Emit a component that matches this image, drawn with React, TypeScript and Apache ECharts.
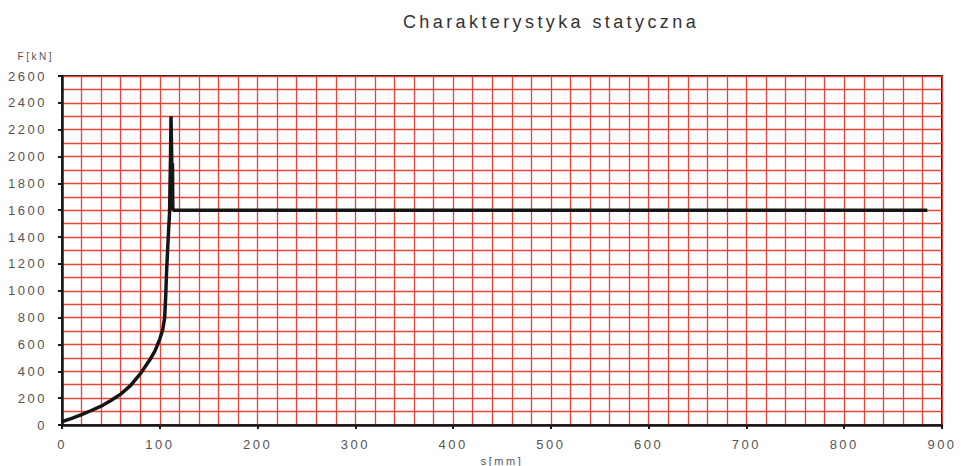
import React, { useEffect, useRef } from "react";
import * as echarts from "echarts";

const titleText = "Charakterystyka statyczna";
const xName = "s[mm]";
const yName = "F[kN]";

// displacement s [mm]
const sValues = [
  0, 10, 20, 30, 40, 50, 60, 70, 80, 90, 95, 100, 103, 105, 106, 107, 108, 109,
  110, 111, 111.5, 112.5, 113, 113.3, 114, 885,
];
// force F [kN]
const fValues = [
  25, 50, 78, 108, 140, 182, 230, 293, 380, 488, 550, 640, 710, 800, 950, 1150,
  1300, 1450, 1580, 2000, 2300, 1850, 1950, 1620, 1600, 1600,
];

const xMin = 0;
const xMax = 900;
const xStep = 100;
const yMin = 0;
const yMax = 2600;
const yStep = 200;

export default function App() {
  const ref = useRef<HTMLDivElement>(null);
  useEffect(() => {
    if (!ref.current) return;
    const chart = echarts.init(ref.current, null, { renderer: "svg" });
    const red = "#e2453a";
    const font = "'Liberation Sans', Arial, sans-serif";
    chart.setOption({
      animation: false,
      title: {
        text: titleText,
        left: 546,
        top: 8,
        textAlign: "center",
        textStyle: { fontFamily: font, fontSize: 18, fontWeight: "normal", color: "#333" },
      },
      grid: {
        left: 62,
        right: 19,
        top: 76,
        bottom: 41,
        outerBoundsMode: "none",
        containLabel: false,
        show: true,
        borderColor: "#1a1a1a",
        borderWidth: 2,
        backgroundColor: "#ffffff",
      },
      xAxis: {
        type: "value",
        min: xMin,
        max: xMax,
        interval: xStep,
        name: xName,
        nameLocation: "middle",
        nameGap: 25,
        nameTextStyle: { fontFamily: font, fontSize: 11, color: "#555" },
        axisLine: { show: true, lineStyle: { color: "#1a1a1a", width: 2.5 } },
        axisTick: { show: true, length: 4, lineStyle: { color: "#1a1a1a", width: 2 } },
        axisLabel: { fontFamily: font, fontSize: 13, color: "#555", margin: 13 },
        splitLine: { show: true, lineStyle: { color: red, width: 1.3 } },
        minorTick: { show: false, splitNumber: 5 },
        minorSplitLine: { show: true, lineStyle: { color: red, width: 1.3 } },
      },
      yAxis: {
        type: "value",
        min: yMin,
        max: yMax,
        interval: yStep,
        name: yName,
        nameLocation: "end",
        nameGap: 15,
        nameTextStyle: { fontFamily: font, fontSize: 10, color: "#555", align: "right", padding: [0, 8, 0, 0] },
        axisLine: { show: true, lineStyle: { color: "#1a1a1a", width: 2.5 } },
        axisTick: { show: true, length: 4, lineStyle: { color: "#1a1a1a", width: 2 } },
        axisLabel: {
          fontFamily: font,
          fontSize: 13,
          color: "#555",
          margin: 15,
          formatter: (v: number) => String(v),
        },
        splitLine: { show: true, lineStyle: { color: red, width: 1.3 } },
        minorTick: { show: false, splitNumber: 2 },
        minorSplitLine: { show: true, lineStyle: { color: red, width: 1.3 } },
      },
      series: [
        {
          type: "line",
          data: sValues.map((s, i) => [s, fValues[i]]),
          showSymbol: false,
          smooth: false,
          lineStyle: { color: "#151515", width: 3.5 },
          z: 5,
        },
      ],
    });
    ref.current.querySelectorAll("text").forEach((t) => {
      if (t.textContent === titleText) (t as SVGTextElement).style.letterSpacing = "3.4px";
    });
    return () => chart.dispose();
  }, []);
  return (
    <div
      ref={ref}
      style={{
        position: "fixed",
        left: 0,
        top: 0,
        width: 961,
        height: 466,
        background: "#ffffff",
        letterSpacing: "2.5px",
      }}
    />
  );
}
